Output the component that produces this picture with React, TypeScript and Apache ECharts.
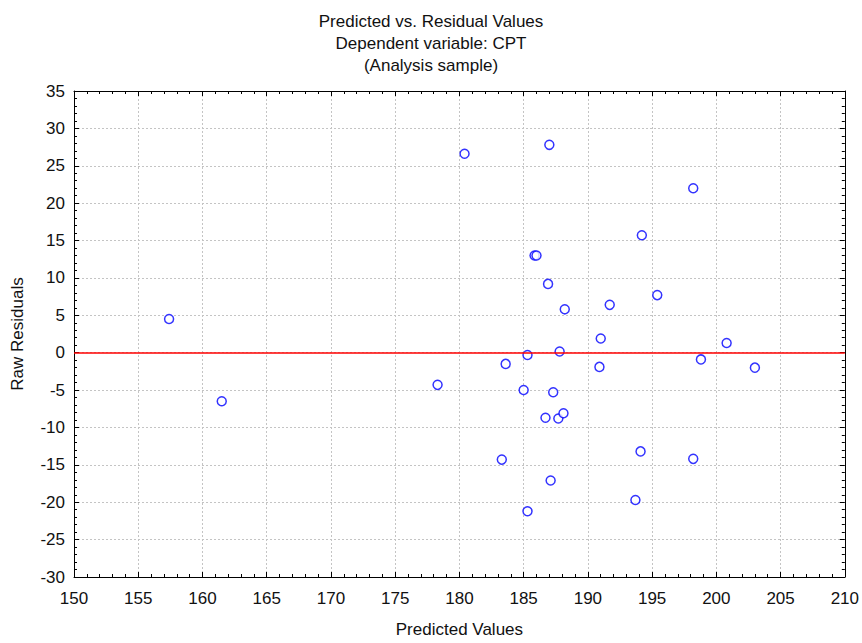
import React, { useEffect, useRef } from "react";
import * as echarts from "echarts";

const titleLines = ["Predicted vs. Residual Values", "Dependent variable: CPT", "(Analysis sample)"];
const xAxisName = "Predicted Values";
const yAxisName = "Raw Residuals";

const predicted = [
  157.4, 161.5, 178.3, 180.4, 187.0, 183.3, 183.6, 185.0, 185.3, 185.3,
  185.85, 186.0, 186.9, 186.7, 187.1, 187.3, 187.8, 187.7, 188.1, 188.2,
  191.0, 190.9, 191.7, 193.7, 194.1, 194.2, 195.4, 198.2, 198.2, 198.8,
  200.8, 203.0,
];
const residuals = [
  4.5, -6.5, -4.3, 26.6, 27.8, -14.3, -1.5, -5.0, -0.3, -21.2,
  13.0, 13.0, 9.2, -8.7, -17.1, -5.3, 0.15, -8.8, -8.1, 5.8,
  1.9, -1.9, 6.4, -19.7, -13.2, 15.7, 7.7, 22.0, -14.2, -0.9,
  1.3, -2.0,
];

const xMin = 150, xMax = 210, xStep = 5;
const yMin = -30, yMax = 35, yStep = 5;
const referenceLine = 0;

const FONT = "'Liberation Sans', Arial, sans-serif";

export default function App() {
  const ref = useRef<HTMLDivElement>(null);
  useEffect(() => {
    if (!ref.current) return;
    const chart = echarts.init(ref.current, undefined, { renderer: "svg" });
    const points = predicted.map((x, i) => [x, residuals[i]]);
    const tickCommon = {
      axisTick: { show: true, inside: true, length: 5, lineStyle: { color: "#000" } },
      minorTick: { show: true, splitNumber: 5, length: 3, lineStyle: { color: "#000" } },
      axisLine: { show: true, onZero: false, lineStyle: { color: "#000", width: 1 } },
    };
    const splitLine = { show: true, lineStyle: { color: "#c4c4c4", type: [2, 2] as any, width: 1 } };
    chart.setOption({
      animation: false,
      backgroundColor: "#fff",
      textStyle: { fontFamily: FONT },
      title: {
        text: titleLines.join("\n"),
        left: "center",
        top: 5,
        textStyle: { fontFamily: FONT, fontSize: 17, fontWeight: "normal", color: "#111", lineHeight: 22 },
      },
      grid: { left: 74, right: 17, top: 91, bottom: 64, containLabel: false },
      xAxis: [
        {
          type: "value", min: xMin, max: xMax, interval: xStep, position: "bottom",
          name: xAxisName, nameLocation: "middle", nameGap: 44,
          nameTextStyle: { fontFamily: FONT, fontSize: 17, color: "#111" },
          axisLabel: { fontFamily: FONT, fontSize: 17, color: "#111", margin: 13 },
          splitLine, ...tickCommon,
        },
        {
          type: "value", min: xMin, max: xMax, interval: xStep, position: "top",
          axisLabel: { show: false }, splitLine: { show: false }, ...tickCommon,
        },
      ],
      yAxis: [
        {
          type: "value", min: yMin, max: yMax, interval: yStep, position: "left",
          name: yAxisName, nameLocation: "middle", nameGap: 48,
          nameTextStyle: { fontFamily: FONT, fontSize: 17, color: "#111" },
          axisLabel: { fontFamily: FONT, fontSize: 17, color: "#111", margin: 9 },
          splitLine, ...tickCommon,
        },
        {
          type: "value", min: yMin, max: yMax, interval: yStep, position: "right",
          axisLabel: { show: false }, splitLine: { show: false }, ...tickCommon,
        },
      ],
      series: [
        {
          type: "scatter",
          data: points,
          symbol: "circle",
          symbolSize: 9,
          itemStyle: { color: "#fff", borderColor: "#0000ff", borderWidth: 1.5 },
          markLine: {
            silent: true,
            symbol: "none",
            label: { show: false },
            lineStyle: { color: "#ff0000", width: 1.5, type: "solid" },
            data: [{ yAxis: referenceLine }],
          },
          z: 3,
        },
      ],
    });
    return () => chart.dispose();
  }, []);
  return <div ref={ref} style={{ position: "fixed", left: 0, top: 0, width: 862, height: 643 }} />;
}
